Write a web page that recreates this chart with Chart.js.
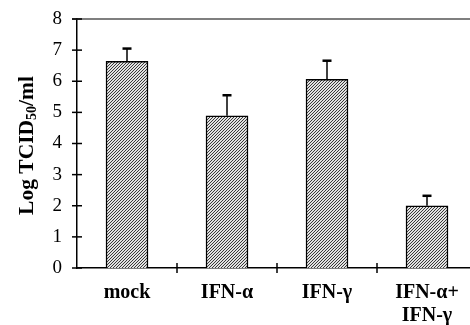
<!DOCTYPE html>
<html>
<head>
<meta charset="utf-8">
<script src="https://cdn.jsdelivr.net/npm/chart.js@4"></script>
<style>
  html, body { margin: 0; padding: 0; background: #fff; }
  #wrap { width: 470px; height: 325px; position: relative; }
</style>
</head>
<body>
<div id="wrap"><canvas id="titerChart"></canvas></div>
<script>
// values
const categories = ["mock", "IFN-α", "IFN-γ", ["IFN-α+", "IFN-γ"]];
const logTiter = [6.64, 4.89, 6.06, 2.0];
const errorUp = [0.41, 0.66, 0.60, 0.32];
const yTicks = [0, 1, 2, 3, 4, 5, 6, 7, 8];

const SERIF = "'Liberation Serif', 'Times New Roman', serif";

// diagonal hatch fill like the printed bars
function makeHatch() {
    const c = document.createElement('canvas');
    c.width = 3; c.height = 3;
    const g = c.getContext('2d');
    g.fillStyle = '#e2e2e2';
    g.fillRect(0, 0, 3, 3);
    g.fillStyle = '#3a3a3a';
    for (let i = 0; i < 3; i++) g.fillRect(i, 2 - i, 1, 1);
    return g.createPattern(c, 'repeat');
}

// ticks crossing the axes, the top rule and the error bars
const axisDecor = {
    id: 'axisDecor',
    afterDatasetsDraw(chart) {
        const ctx = chart.ctx;
        const area = chart.chartArea;
        const x = chart.scales.x, y = chart.scales.y;
        ctx.save();

        // error bars (upper only)
        ctx.strokeStyle = '#000';
        const meta = chart.getDatasetMeta(0);
        meta.data.forEach((bar, i) => {
            const top = y.getPixelForValue(logTiter[i] + errorUp[i]);
            ctx.lineWidth = 1.5;
            ctx.beginPath();
            ctx.moveTo(bar.x, bar.y);
            ctx.lineTo(bar.x, top);
            ctx.stroke();
            ctx.lineWidth = 2.5;
            ctx.beginPath();
            ctx.moveTo(bar.x - 4.5, top);
            ctx.lineTo(bar.x + 4.5, top);
            ctx.stroke();
        });

        // top rule
        ctx.strokeStyle = '#555';
        ctx.lineWidth = 1.5;
        ctx.beginPath();
        ctx.moveTo(area.left - 5, area.top);
        ctx.lineTo(chart.width, area.top);
        ctx.stroke();

        // y tick marks
        ctx.strokeStyle = '#000';
        ctx.lineWidth = 1.5;
        yTicks.forEach(v => {
            const py = y.getPixelForValue(v);
            ctx.beginPath();
            ctx.moveTo(area.left - 5, py);
            ctx.lineTo(area.left + 5, py);
            ctx.stroke();
        });

        // x tick marks between categories
        for (let i = 1; i < categories.length; i++) {
            const px = (x.getPixelForValue(i - 1) + x.getPixelForValue(i)) / 2;
            ctx.beginPath();
            ctx.moveTo(px, area.bottom - 5);
            ctx.lineTo(px, area.bottom + 5);
            ctx.stroke();
        }

        // y axis title with subscript
        const cy = (area.top + area.bottom) / 2 + 2;
        ctx.translate(27, cy);
        ctx.rotate(-Math.PI / 2);
        ctx.fillStyle = '#000';
        ctx.textBaseline = 'middle';
        const big = "bold 21.5px " + SERIF, small = "bold 14px " + SERIF;
        const parts = [["Log TCID", big, 0], ["50", small, 5], ["/ml", big, 0]];
        let total = 0;
        parts.forEach(p => { ctx.font = p[1]; total += ctx.measureText(p[0]).width; });
        let cx = -total / 2;
        parts.forEach(p => {
            ctx.font = p[1];
            ctx.fillText(p[0], cx, p[2]);
            cx += ctx.measureText(p[0]).width;
        });
        ctx.restore();
    }
};

new Chart(document.getElementById('titerChart'), {
    type: 'bar',
    data: {
        labels: categories,
        datasets: [{
            data: logTiter,
            backgroundColor: makeHatch(),
            borderColor: '#000',
            borderWidth: 1.5,
            borderSkipped: 'bottom',
            barThickness: 42
        }]
    },
    options: {
        responsive: true,
        maintainAspectRatio: false,
        animation: false,
        layout: { padding: { top: 19, right: 0, left: 0, bottom: 0 } },
        plugins: {
            legend: { display: false },
            tooltip: { enabled: false }
        },
        scales: {
            y: {
                min: 0,
                max: 8,
                ticks: {
                    stepSize: 1,
                    padding: 15,
                    color: '#000',
                    font: { family: SERIF, size: 19 }
                },
                grid: { display: false, drawTicks: false },
                border: { display: true, color: '#000', width: 1.5 },
                afterFit(scale) {
                    scale.width = 77;
                    scale.paddingTop = 0;
                    scale.paddingBottom = 0;
                }
            },
            x: {
                ticks: {
                    padding: 14,
                    color: '#000',
                    maxRotation: 0,
                    autoSkip: false,
                    font: { family: SERIF, size: 20, weight: 'bold', lineHeight: 1.12 }
                },
                grid: { display: false, drawTicks: false },
                border: { display: true, color: '#000', width: 1.5 },
                // the last category runs past the right edge of the figure
                afterBuildTicks(scale) {
                    scale._startValue = -0.5;
                    scale._valueRange = 3.93;
                },
                afterFit(scale) {
                    scale.height = 57;
                    scale.paddingLeft = 0;
                    scale.paddingRight = 0;
                }
            }
        }
    },
    plugins: [axisDecor]
});
</script>
</body>
</html>
